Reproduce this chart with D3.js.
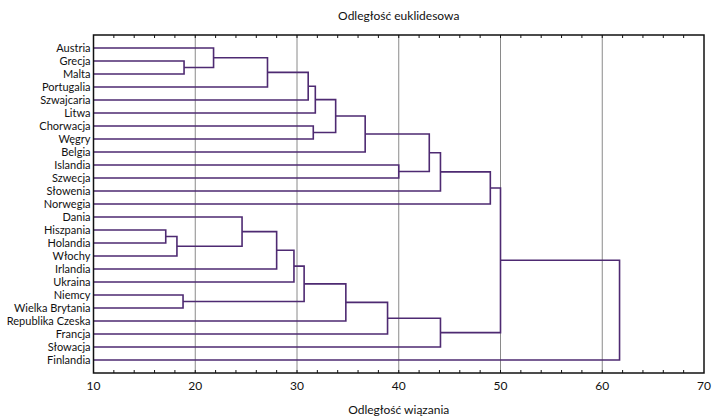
<!doctype html>
<html lang="pl">
<head>
<meta charset="utf-8">
<script src="https://cdn.jsdelivr.net/npm/d3@7"></script>
<style>
  body { margin: 0; background: #fff; }
  svg { display: block; font-family: Lato, "Noto Sans", sans-serif; }
</style>
</head>
<body>
<div id="viz"></div>
<script>
// leaf order top -> bottom
const countries = ["Austria", "Grecja", "Malta", "Portugalia", "Szwajcaria", "Litwa",
  "Chorwacja", "Węgry", "Belgia", "Islandia", "Szwecja", "Słowenia", "Norwegia",
  "Dania", "Hiszpania", "Holandia", "Włochy", "Irlandia", "Ukraina", "Niemcy",
  "Wielka Brytania", "Republika Czeska", "Francja", "Słowacja", "Finlandia"];

// merges: [left node, right node]; leaves are 0..24, merge k becomes node 25+k
const mergePairs = [
  [1, 2], [0, 25], [26, 3], [27, 4], [28, 5], [6, 7], [29, 30], [31, 8],
  [9, 10], [32, 33], [34, 11], [35, 12],
  [14, 15], [37, 16], [13, 38], [39, 17], [40, 18], [19, 20], [41, 42],
  [43, 21], [44, 22], [45, 23], [36, 46], [47, 24]
];
// linkage distance of each merge
const mergeHeights = [
  18.9, 21.8, 27.1, 31.1, 31.8, 31.6, 33.8, 36.7,
  40.0, 43.0, 44.1, 49.0,
  17.1, 18.2, 24.6, 28.0, 29.7, 18.8, 30.7,
  34.8, 38.9, 44.1, 50.0, 61.7
];

const xTicks = [10, 20, 30, 40, 50, 60, 70];
const gridValues = [20, 30, 40, 50, 60];

const width = 712, height = 419;
const mLeft = 93.5, mRight = 704, mTop = 35, mBottom = 373;
const lineColor = "#4e2a72";

const x = d3.scaleLinear().domain([10, 70]).range([mLeft, mRight]);
const y = d3.scalePoint().domain(countries).range([mTop, mBottom]).padding(1);

const svg = d3.select("#viz").append("svg")
  .attr("width", width).attr("height", height);

// grid
svg.append("g").selectAll("line")
  .data(gridValues)
  .join("line")
  .attr("x1", d => x(d)).attr("x2", d => x(d))
  .attr("y1", mTop).attr("y2", mBottom)
  .attr("stroke", "#8a8a8a")
  .attr("stroke-width", 1);

// node positions
const nodeY = countries.map(c => y(c));
const nodeH = countries.map(() => 10);
mergePairs.forEach((p, i) => {
  nodeY.push((nodeY[p[0]] + nodeY[p[1]]) / 2);
  nodeH.push(mergeHeights[i]);
});

function linkPath(p, i) {
  const h = mergeHeights[i];
  const [a, b] = p;
  return `M${x(nodeH[a])},${nodeY[a]}H${x(h)}V${nodeY[b]}H${x(nodeH[b])}`;
}

svg.append("g")
  .attr("fill", "none")
  .attr("stroke", lineColor)
  .attr("stroke-width", 1.6)
  .selectAll("path")
  .data(mergePairs)
  .join("path")
  .attr("d", linkPath);

// frame
svg.append("rect")
  .attr("x", mLeft).attr("y", mTop)
  .attr("width", mRight - mLeft).attr("height", mBottom - mTop)
  .attr("fill", "none")
  .attr("stroke", "#111")
  .attr("stroke-width", 1.5);

// minor ticks top and bottom
const minor = d3.range(12, 70, 2);
const tickG = svg.append("g").attr("stroke", "#111").attr("stroke-width", 1);
tickG.selectAll("line.t").data(minor).join("line").attr("class", "t")
  .attr("x1", d => x(d)).attr("x2", d => x(d))
  .attr("y1", mTop).attr("y2", mTop + 3);
tickG.selectAll("line.b").data(minor).join("line").attr("class", "b")
  .attr("x1", d => x(d)).attr("x2", d => x(d))
  .attr("y1", mBottom).attr("y2", mBottom - 3);

// x tick labels
svg.append("g").selectAll("text")
  .data(xTicks)
  .join("text")
  .attr("x", d => x(d))
  .attr("y", 390)
  .attr("text-anchor", "middle")
  .attr("font-size", 12)
  .attr("fill", "#111")
  .text(d => d);

// country labels
svg.append("g").selectAll("text")
  .data(countries)
  .join("text")
  .attr("x", mLeft - 3)
  .attr("y", d => y(d))
  .attr("dy", "0.35em")
  .attr("text-anchor", "end")
  .attr("font-size", 11)
  .attr("fill", "#111")
  .text(d => d);

// titles
svg.append("text")
  .attr("x", (mLeft + mRight) / 2).attr("y", 20)
  .attr("text-anchor", "middle")
  .attr("font-size", 12)
  .attr("fill", "#111")
  .text("Odległość euklidesowa");

svg.append("text")
  .attr("x", (mLeft + mRight) / 2).attr("y", 414)
  .attr("text-anchor", "middle")
  .attr("font-size", 12)
  .attr("fill", "#111")
  .text("Odległość wiązania");
</script>
</body>
</html>
